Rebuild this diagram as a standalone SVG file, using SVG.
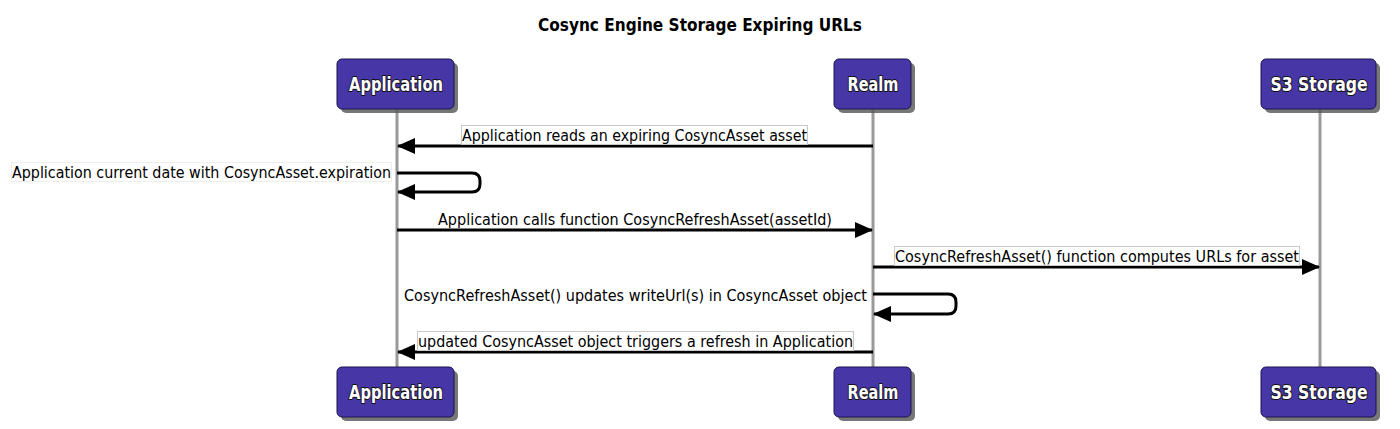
<svg xmlns="http://www.w3.org/2000/svg" width="1400" height="429" viewBox="0 0 1400 429">
<style>
.title{font-family:"DejaVu Sans","Liberation Sans",sans-serif;font-size:17px;font-weight:bold;fill:#000}
.box{fill:#4636a6;stroke:#1a1450;stroke-width:1}
.shadow{fill:#555;opacity:0.8}
.ptext{font-family:"DejaVu Sans","Liberation Sans",sans-serif;font-size:19px;font-weight:bold;fill:#fff;stroke:#111;stroke-width:2;paint-order:stroke;stroke-linejoin:round;text-anchor:middle}
.life{stroke:#999;stroke-width:3}
.msg{stroke:#000;stroke-width:3;fill:none}
.lbg{fill:#fff;stroke:#c8c8c8;stroke-width:1}
.ltext{font-family:"DejaVu Sans","Liberation Sans",sans-serif;font-size:15px;fill:#000}
</style>
<defs>
<marker id="ah" markerWidth="18" markerHeight="16" refX="17" refY="8" orient="auto" markerUnits="userSpaceOnUse">
<path d="M0,0 L18,8 L0,16 Z" fill="#000"/>
</marker>
</defs>
<rect width="1400" height="429" fill="#fff"/>
<text class="title" x="700" y="31" text-anchor="middle" textLength="324" lengthAdjust="spacingAndGlyphs">Cosync Engine Storage Expiring URLs</text>

<g id="lifelines">
<line class="life" x1="397" y1="110" x2="397" y2="367"/>
<line class="life" x1="873" y1="110" x2="873" y2="367"/>
<line class="life" x1="1320" y1="110" x2="1320" y2="367"/>
</g>

<g id="Application">
<rect class="shadow" x="341" y="63" width="117" height="50" rx="5"/>
<rect class="box" x="337" y="59" width="117" height="50" rx="5"/>
<text class="ptext" x="396" y="91" textLength="94" lengthAdjust="spacingAndGlyphs">Application</text>
<rect class="shadow" x="341" y="371" width="117" height="50" rx="5"/>
<rect class="box" x="337" y="367" width="117" height="50" rx="5"/>
<text class="ptext" x="396" y="399" textLength="94" lengthAdjust="spacingAndGlyphs">Application</text>
</g>

<g id="Realm">
<rect class="shadow" x="838" y="63" width="77" height="50" rx="5"/>
<rect class="box" x="834" y="59" width="77" height="50" rx="5"/>
<text class="ptext" x="873" y="91" textLength="51" lengthAdjust="spacingAndGlyphs">Realm</text>
<rect class="shadow" x="838" y="371" width="77" height="50" rx="5"/>
<rect class="box" x="834" y="367" width="77" height="50" rx="5"/>
<text class="ptext" x="873" y="399" textLength="51" lengthAdjust="spacingAndGlyphs">Realm</text>
</g>

<g id="S3Storage">
<rect class="shadow" x="1265" y="63" width="115" height="50" rx="5"/>
<rect class="box" x="1261" y="59" width="115" height="50" rx="5"/>
<text class="ptext" x="1319" y="91" textLength="97" lengthAdjust="spacingAndGlyphs">S3 Storage</text>
<rect class="shadow" x="1265" y="371" width="115" height="50" rx="5"/>
<rect class="box" x="1261" y="367" width="115" height="50" rx="5"/>
<text class="ptext" x="1319" y="399" textLength="97" lengthAdjust="spacingAndGlyphs">S3 Storage</text>
</g>

<g id="connectors">
<line class="msg" x1="873" y1="146" x2="398" y2="146" marker-end="url(#ah)"/>
<path class="msg" d="M397,173 H472 Q480,173 480,181 V184 Q480,192 472,192 H398" marker-end="url(#ah)"/>
<line class="msg" x1="397" y1="230" x2="872" y2="230" marker-end="url(#ah)"/>
<line class="msg" x1="873" y1="267" x2="1319" y2="267" marker-end="url(#ah)"/>
<path class="msg" d="M873,294 H948 Q956,294 956,302 V306 Q956,314 948,314 H874" marker-end="url(#ah)"/>
<line class="msg" x1="873" y1="352" x2="398" y2="352" marker-end="url(#ah)"/>
</g>

<g id="labels">
<rect class="lbg" x="461.5" y="125.5" width="346" height="19"/>
<text class="ltext" x="462" y="141" textLength="345" lengthAdjust="spacingAndGlyphs">Application reads an expiring CosyncAsset asset</text>
<rect class="lbg" x="11.5" y="162.5" width="380" height="19" style="stroke:#eee"/>
<text class="ltext" x="12" y="178" textLength="379" lengthAdjust="spacingAndGlyphs">Application current date with CosyncAsset.expiration</text>
<text class="ltext" x="438" y="225" textLength="394" lengthAdjust="spacingAndGlyphs">Application calls function CosyncRefreshAsset(assetId)</text>
<rect class="lbg" x="894.5" y="246.5" width="405" height="19"/>
<text class="ltext" x="895" y="262" textLength="404" lengthAdjust="spacingAndGlyphs">CosyncRefreshAsset() function computes URLs for asset</text>
<text class="ltext" x="404" y="301" textLength="463" lengthAdjust="spacingAndGlyphs">CosyncRefreshAsset() updates writeUrl(s) in CosyncAsset object</text>
<rect class="lbg" x="417.5" y="331.5" width="436" height="19"/>
<text class="ltext" x="418" y="347" textLength="435" lengthAdjust="spacingAndGlyphs">updated CosyncAsset object triggers a refresh in Application</text>
</g>
</svg>
